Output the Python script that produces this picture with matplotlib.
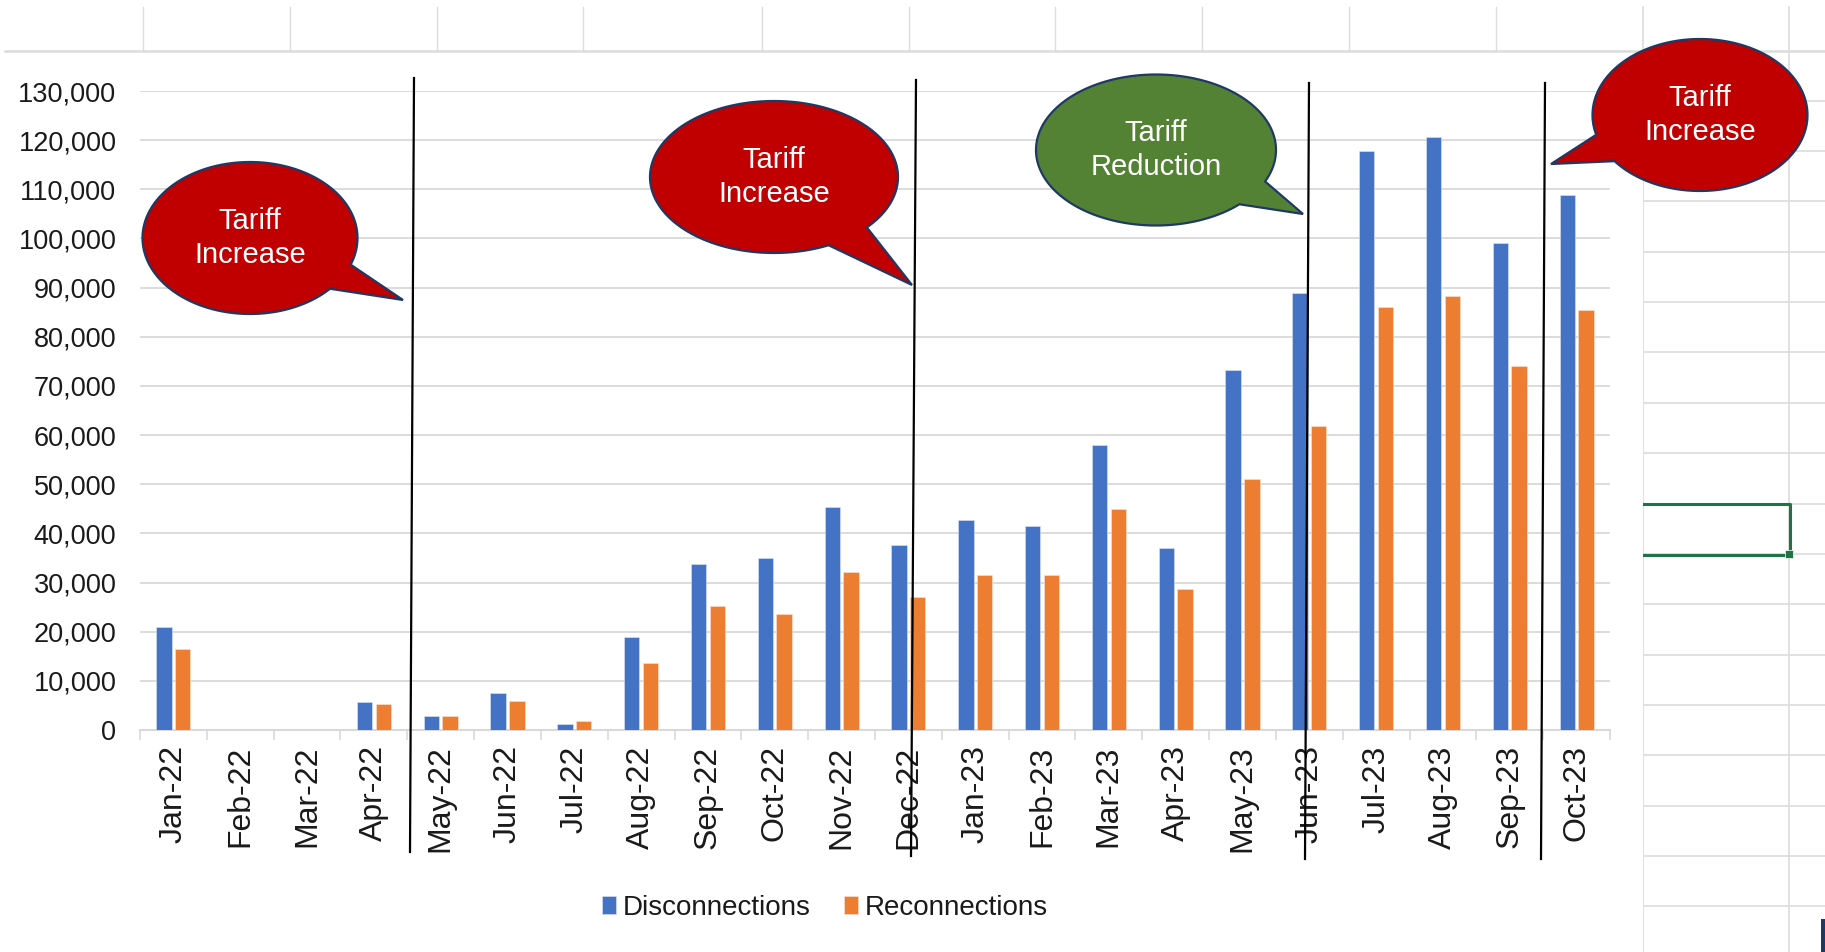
import numpy as np
import matplotlib
matplotlib.use("Agg")
import matplotlib.pyplot as plt
from matplotlib.patches import Polygon, Rectangle
from matplotlib.lines import Line2D

# ---------------- data ----------------
months = ["Jan-22", "Feb-22", "Mar-22", "Apr-22", "May-22", "Jun-22", "Jul-22", "Aug-22",
          "Sep-22", "Oct-22", "Nov-22", "Dec-22", "Jan-23", "Feb-23", "Mar-23", "Apr-23",
          "May-23", "Jun-23", "Jul-23", "Aug-23", "Sep-23", "Oct-23"]
disconnections = [21000, 0, 0, 5600, 2800, 7600, 1300, 18900, 33700, 34900, 45300, 37600,
                  42800, 41600, 57900, 37000, 73200, 88900, 117700, 120700, 99000, 108800]
reconnections = [16500, 0, 0, 5300, 2800, 5800, 1900, 13600, 25200, 23700, 32200, 27000,
                 31600, 31600, 44900, 28600, 51000, 61800, 86100, 88200, 74000, 85500]
y_ticks = list(range(0, 130001, 10000))
series_names = ["Disconnections", "Reconnections"]
callout_texts = ["Tariff\nIncrease", "Tariff\nIncrease", "Tariff\nReduction", "Tariff\nIncrease"]

# ---------------- style ----------------
W, H = 1825, 952
BLUE, ORANGE = "#4472C4", "#ED7D31"
RED, GREEN, NAVY = "#C00000", "#548235", "#1F3864"
GRID = "#D9D9D9"
SHEET = "#DCDCDC"
REG = ["Liberation Sans", "DejaVu Sans"]

fig = plt.figure(figsize=(W / 100, H / 100), dpi=100)
fig.patch.set_facecolor("white")


def fx(x):
    return x / W


def fy(y):
    return 1 - y / H


def fline(xs, ys, **kw):
    fig.add_artist(Line2D([fx(v) for v in xs], [fy(v) for v in ys],
                          transform=fig.transFigure, **kw))


# ---------------- spreadsheet background ----------------
for cx in [143, 290, 437, 583, 762, 909, 1055, 1202, 1349, 1496]:
    fline([cx, cx], [7, 51], color=SHEET, lw=1.0, zorder=-3)
for cx in [1643, 1789]:
    fline([cx, cx], [7, H], color=SHEET, lw=1.2, zorder=-3)
fline([5, W], [51, 51], color=SHEET, lw=1.8, zorder=-3)
for k in range(2, 19):
    yy = 50.35 * k
    fline([1643, W], [yy, yy], color=SHEET, lw=1.2, zorder=-3)
# selection box
fline([1643, 1790, 1790], [504, 504, 555], color="#217346", lw=2.2, zorder=-2)
fline([1643, 1786], [555, 555], color="#217346", lw=2.2, zorder=-2)
fig.add_artist(Rectangle((fx(1785), fy(558)), 8 / W, 8 / H, transform=fig.transFigure,
                         facecolor="#217346", edgecolor="white", lw=0.5, zorder=-2))
fig.add_artist(Rectangle((fx(1821), fy(H)), 4 / W, 33 / H, transform=fig.transFigure,
                         facecolor=NAVY, edgecolor="none", zorder=-2))
# chart area (white)
fig.add_artist(Rectangle((fx(5), fy(H)), (1643 - 5) / W, (H - 53) / H,
                         transform=fig.transFigure, facecolor="white",
                         edgecolor="none", zorder=-1))

# ---------------- axes ----------------
ax = fig.add_axes([fx(140), fy(730), (1610 - 140) / W, (730 - 91) / H])
ax.set_facecolor("none")
x = np.arange(len(months))
bw, off = 0.23, 0.14
ax.bar(x - off, disconnections, bw, color=BLUE, edgecolor="#DCE6F5", lw=0.4,
       label=series_names[0], zorder=3)
ax.bar(x + off, reconnections, bw, color=ORANGE, edgecolor="#FBE3D3", lw=0.4,
       label=series_names[1], zorder=3)

ax.set_xlim(-0.5, len(months) - 0.5)
ax.set_ylim(0, 130000)
ax.set_yticks(y_ticks)
ax.set_yticklabels([f"{v:,}" for v in y_ticks], fontfamily=REG, fontsize=19.5,
                   color="#1a1a1a")
ax.yaxis.grid(True, color=GRID, lw=1.3, zorder=0)
ax.set_axisbelow(True)
ax.tick_params(axis="y", length=0, pad=17)

ax.set_xticks(x)
ax.set_xticklabels(months, rotation=90, fontfamily=REG, fontsize=23, color="#1a1a1a")
ax.set_xticks(np.arange(-0.5, len(months), 1.0), minor=True)
ax.tick_params(axis="x", which="major", length=0, pad=11)
ax.tick_params(axis="x", which="minor", length=7, width=1.2, color=GRID, direction="out")
for s in ["top", "right", "left"]:
    ax.spines[s].set_visible(False)
ax.spines["bottom"].set_color(GRID)
ax.spines["bottom"].set_linewidth(1.5)

# legend
leg = fig.legend(loc="center", bbox_to_anchor=(fx(825), fy(908)), ncol=2, frameon=False,
                 prop={"family": REG, "size": 20}, handlelength=0.5,
                 handleheight=0.6, handletextpad=0.25, columnspacing=1.2)
for t in leg.get_texts():
    t.set_color("#1a1a1a")


# ---------------- callouts ----------------
def callout(cx, cy, a, b, p1, p2, tip, color, text):
    t1 = np.arctan2((p1[1] - cy) / b, (p1[0] - cx) / a)
    t2 = np.arctan2((p2[1] - cy) / b, (p2[0] - cx) / a)
    d = (t2 - t1 + np.pi) % (2 * np.pi) - np.pi
    ts = t2 + np.sign(d) * np.linspace(0, 2 * np.pi - abs(d), 200)
    xs = cx + a * np.cos(ts)
    ys = cy + b * np.sin(ts)
    pts = [(fx(u), fy(v)) for u, v in zip(xs, ys)] + [(fx(tip[0]), fy(tip[1]))]
    fig.add_artist(Polygon(pts, closed=True, transform=fig.transFigure, facecolor=color,
                           edgecolor=NAVY, lw=1.6, zorder=5))
    fig.text(fx(cx), fy(cy), text, ha="center", va="center", color="white",
             fontfamily=REG, fontsize=21, linespacing=1.25, zorder=6)


callout(250, 238, 107.5, 76, (352, 265), (332, 290), (403, 300), RED, callout_texts[0])
callout(774, 177, 124, 76, (868, 228), (830, 247), (912, 285), RED, callout_texts[1])
callout(1156, 150, 120, 75.5, (1267, 182), (1239, 204), (1303, 214), GREEN, callout_texts[2])
callout(1700, 115, 107.5, 76, (1595, 135), (1613, 162), (1551, 164), RED, callout_texts[3])

# vertical marker lines
for (xt, yt, xb, yb) in [(414, 78, 410, 852), (916, 80, 911, 856),
                         (1309, 83, 1305, 859), (1545, 83, 1541, 859)]:
    fline([xt, xb], [yt, yb], color="black", lw=1.6, zorder=7)

fig.savefig("out.png", dpi=100, facecolor="white")
